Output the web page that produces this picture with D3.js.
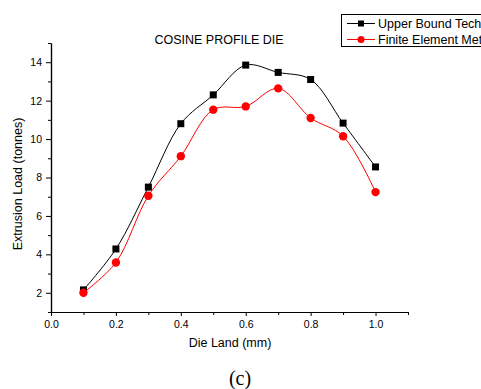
<!DOCTYPE html>
<html>
<head>
<meta charset="utf-8">
<script src="https://cdn.jsdelivr.net/npm/d3@7"></script>
<style>
  html, body { margin: 0; padding: 0; background: #fff; }
  svg { display: block; font-family: Arial, "Liberation Sans", sans-serif; }
</style>
</head>
<body>
<svg id="chart" width="481" height="389"></svg>
<script>
// Die land (mm) on the x axis
const dieLand = [0.1, 0.2, 0.3, 0.4, 0.5, 0.6, 0.7, 0.8, 0.9, 1.0];
// Extrusion load (tonnes) for each method
const upperBound = [2.15, 4.28, 7.5, 10.8, 12.3, 13.85, 13.47, 13.1, 10.83, 8.55];
const finiteElement = [2.0, 3.58, 7.05, 9.11, 11.53, 11.7, 12.64, 11.1, 10.15, 7.24];

const seriesNames = ["Upper Bound Techniques", "Finite Element Method"];
const xTicks = [0.0, 0.2, 0.4, 0.6, 0.8, 1.0];
const yTicks = [2, 4, 6, 8, 10, 12, 14];

const svg = d3.select("#chart");
const plotLeft = 51, plotRight = 408, plotTop = 43, plotBottom = 312;

const x = d3.scaleLinear().domain([0, 1.1]).range([plotLeft, plotRight]);
const y = d3.scaleLinear().domain([1, 15]).range([plotBottom, plotTop]);

// Axes: labelled major ticks plus shorter minor ticks, all pointing outward
const xAxis = d3.axisBottom(x).tickValues(xTicks).tickFormat(d3.format(".1f")).tickSize(4).tickSizeOuter(0);
const xMinor = d3.axisBottom(x).tickValues(d3.range(1, 12, 2).map(v => v / 10)).tickFormat("").tickSize(3).tickSizeOuter(0);
const yAxis = d3.axisLeft(y).tickValues(yTicks).tickSize(5).tickSizeOuter(0);
const yMinor = d3.axisLeft(y).tickValues(d3.range(1, 16, 2)).tickFormat("").tickSize(3).tickSizeOuter(0);

function styleAxis(g) {
  g.selectAll("path").attr("stroke", "#000").attr("stroke-width", 1.2);
  g.selectAll("line").attr("stroke", "#000").attr("stroke-width", 1);
  g.selectAll("text").attr("fill", "#000").attr("font-size", 10.5)
    .attr("font-family", "Arial, 'Liberation Sans', sans-serif");
}

svg.append("g").attr("transform", `translate(0,${plotBottom})`).call(xMinor).call(styleAxis);
svg.append("g").attr("transform", `translate(0,${plotBottom})`).call(xAxis).call(styleAxis)
  .selectAll("text").attr("dy", "0.9em");
svg.append("g").attr("transform", `translate(${plotLeft},0)`).call(yMinor).call(styleAxis);
svg.append("g").attr("transform", `translate(${plotLeft},0)`).call(yAxis).call(styleAxis)
  .selectAll("text").attr("dx", "-1");

// Series lines, smoothed through the measured points
const line = d3.line()
  .x(d => x(d[0]))
  .y(d => y(d[1]))
  .curve(d3.curveCatmullRom.alpha(0.5));

const series = [
  { name: seriesNames[0], values: upperBound, color: "#000", shape: "square" },
  { name: seriesNames[1], values: finiteElement, color: "#ff0000", shape: "circle" }
];

series.forEach(s => {
  const pts = dieLand.map((d, i) => [d, s.values[i]]);
  svg.append("path")
    .datum(pts)
    .attr("fill", "none")
    .attr("stroke", s.color)
    .attr("stroke-width", 1)
    .attr("d", line);
});

function drawMarker(g, s, cx, cy) {
  if (s.shape === "square") {
    g.append("rect").attr("x", cx - 3.5).attr("y", cy - 3.5)
      .attr("width", 7).attr("height", 7).attr("fill", s.color);
  } else {
    g.append("circle").attr("cx", cx).attr("cy", cy).attr("r", 4.2).attr("fill", s.color);
  }
}

series.forEach(s => {
  const g = svg.append("g");
  dieLand.forEach((d, i) => drawMarker(g, s, x(d), y(s.values[i])));
});

// Title and axis labels
svg.append("text").attr("x", 219).attr("y", 44).attr("text-anchor", "middle")
  .attr("font-size", 12.5).text("COSINE PROFILE DIE");
svg.append("text").attr("x", 230).attr("y", 347).attr("text-anchor", "middle")
  .attr("font-size", 12.5).text("Die Land (mm)");
svg.append("text").attr("transform", `translate(22,184) rotate(-90)`)
  .attr("text-anchor", "middle").attr("font-size", 12.5)
  .text("Extrusion Load (tonnes)");

// Legend
const legend = svg.append("g");
legend.append("rect").attr("x", 341.5).attr("y", 14.5).attr("width", 160).attr("height", 32)
  .attr("fill", "#fff").attr("stroke", "#000").attr("stroke-width", 1);
series.forEach((s, i) => {
  const ly = 23.5 + i * 16;
  legend.append("line").attr("x1", 347).attr("x2", 375).attr("y1", ly).attr("y2", ly)
    .attr("stroke", s.color).attr("stroke-width", 1);
  if (s.shape === "square") {
    legend.append("rect").attr("x", 361 - 3).attr("y", ly - 3).attr("width", 6).attr("height", 6).attr("fill", s.color);
  } else {
    legend.append("circle").attr("cx", 361).attr("cy", ly).attr("r", 3.5).attr("fill", s.color);
  }
  legend.append("text").attr("x", 378).attr("y", ly + 4.5).attr("font-size", 12.5)
    .text(s.name);
});

// Panel caption
svg.append("text").attr("x", 240).attr("y", 385).attr("text-anchor", "middle")
  .attr("font-family", "'Liberation Serif', 'Times New Roman', serif").attr("font-size", 20)
  .text("(c)");
</script>
</body>
</html>
